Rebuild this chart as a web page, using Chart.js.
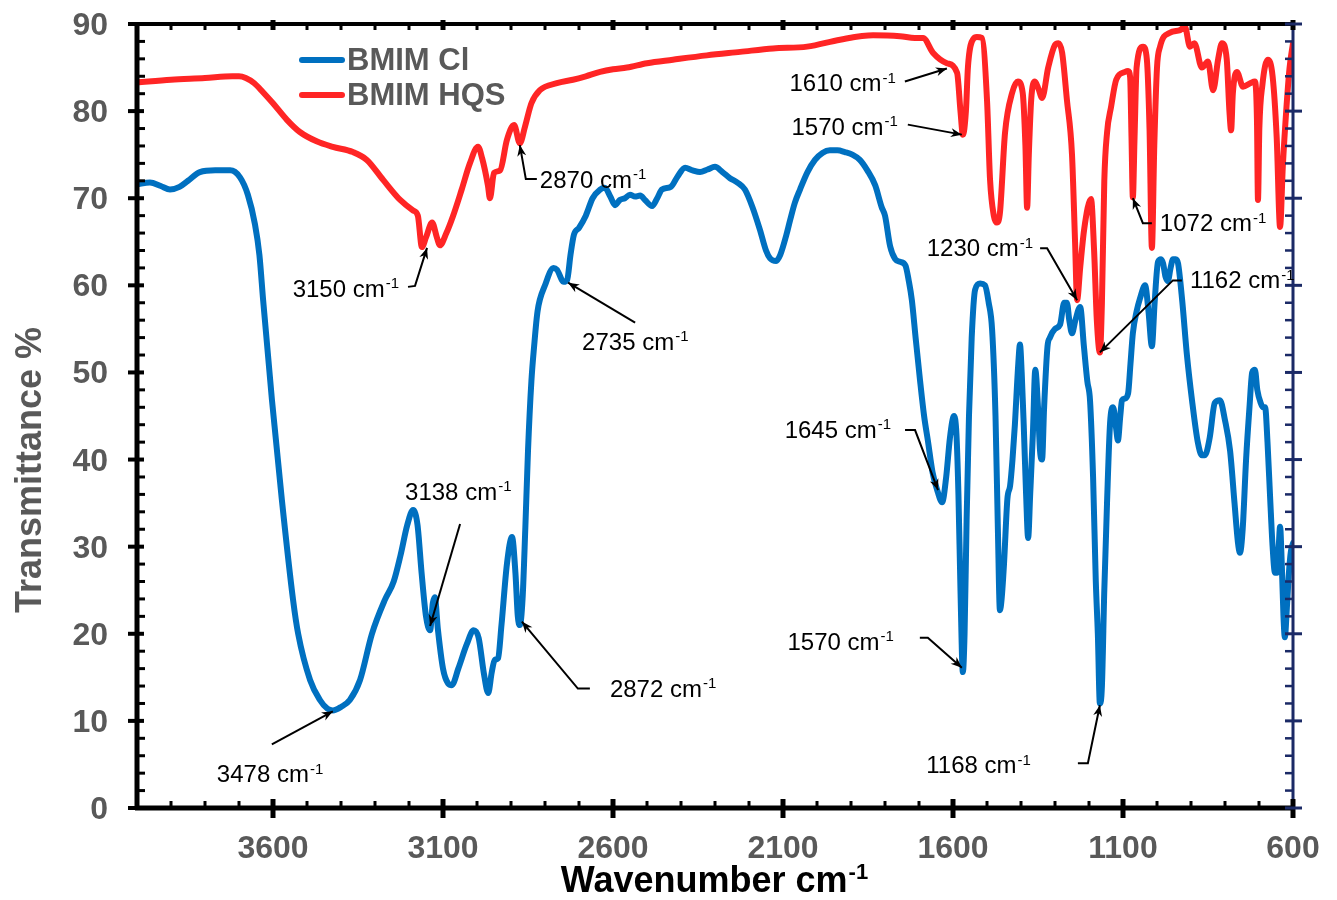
<!DOCTYPE html>
<html>
<head>
<meta charset="utf-8">
<title>FTIR BMIM Cl / BMIM HQS</title>
<script src="https://cdn.jsdelivr.net/npm/chart.js@4.4.0/dist/chart.umd.min.js"></script>
<style>
  html, body { margin: 0; padding: 0; background: #fff; }
</style>
</head>
<body>
<canvas id="irChart" width="1337" height="900"></canvas>
<script>
// BMIM Cl spectrum (wavenumber cm-1, transmittance %)
const clWave = [4000,3962,3930,3903,3875,3850,3815,3770,3726,3697,3674,3653,3640,3629,3603,3574,3541,3526,3491,3462,3440,3424,3400,3374,3344,3309,3271,3245,3225,3205,3188,3175,3163,3150,3138,3130,3124,3115,3100,3085,3074,3055,3030,3010,2995,2980,2967,2957,2948,2938,2928,2912,2897,2887,2880,2874,2866,2858,2850,2840,2832,2822,2800,2775,2765,2745,2735,2725,2715,2700,2680,2660,2638,2624,2608,2594,2580,2565,2550,2535,2520,2506,2485,2470,2456,2430,2410,2388,2366,2344,2322,2300,2278,2256,2234,2212,2190,2168,2150,2138,2120,2108,2090,2079,2065,2050,2028,2006,1984,1962,1940,1918,1896,1874,1852,1829,1810,1800,1785,1770,1756,1740,1730,1721,1710,1697,1685,1674,1660,1645,1632,1620,1609,1597,1590,1584,1578,1571,1566,1560,1553,1545,1535,1520,1506,1495,1485,1475,1468,1462,1457,1450,1440,1432,1425,1418,1408,1403,1398,1392,1385,1379,1373,1365,1358,1350,1344,1338,1332,1322,1315,1300,1285,1273,1265,1258,1250,1240,1226,1215,1205,1197,1188,1180,1174,1168,1162,1155,1147,1138,1129,1120,1115,1108,1103,1095,1085,1078,1071,1060,1050,1035,1025,1015,1007,997,988,982,975,968,960,953,945,938,926,912,897,880,868,859,845,830,815,800,785,772,762,756,748,738,728,720,712,705,695,688,682,675,667,660,653,647,642,638,633,628,624,618,612,606,600];
const clT = [71.6,71.8,71.4,71.0,71.3,72.0,73.0,73.2,73.2,72.4,70.4,67.0,63.5,58.3,46.8,35.4,23.9,20.0,14.7,12.4,11.4,11.2,11.6,12.4,14.7,20.0,23.9,26.0,29.0,32.5,34.2,32.5,27.0,22.0,20.4,23.5,24.2,20.5,16.0,14.3,14.1,16.0,18.8,20.4,19.5,15.5,13.2,15.5,17.0,17.2,21.0,28.0,31.1,27.0,22.0,21.0,24.0,32.0,41.0,49.0,53.0,57.0,60.0,62.0,61.8,60.4,60.6,63.5,65.8,66.6,68.0,70.0,71.0,71.2,70.2,69.2,69.8,70.0,70.4,70.2,70.3,69.8,69.1,70.0,71.0,71.3,72.5,73.5,73.2,73.0,73.3,73.6,73.0,72.3,71.8,71.0,69.0,66.4,64.0,63.1,62.8,63.5,65.8,67.5,69.5,71.0,73.0,74.4,75.2,75.5,75.5,75.3,75.0,74.4,73.2,71.5,69.0,68.0,64.5,63.0,62.7,62.3,60.5,58.3,54.0,49.1,45.0,42.2,38.5,36.3,35.1,38.0,42.5,45.0,43.0,36.0,25.0,15.6,20.0,33.0,45.0,54.0,59.5,60.2,60.0,58.0,54.9,45.0,32.0,22.7,24.0,28.0,35.5,37.0,40.0,44.0,51.0,53.2,50.0,44.0,36.0,31.0,36.0,43.0,50.3,46.0,41.0,40.0,46.0,53.0,54.0,55.0,55.5,58.0,58.0,56.0,54.5,56.0,57.5,53.0,49.0,46.8,38.0,26.0,20.0,12.0,14.0,25.0,35.0,44.2,46.0,43.5,42.2,45.0,46.8,47.0,47.6,51.0,54.5,57.0,58.5,60.0,57.0,53.0,58.0,62.7,63.0,62.5,61.0,60.5,62.0,63.0,63.0,62.5,58.3,52.0,46.8,42.0,40.5,40.5,42.5,46.5,46.8,44.5,41.0,35.0,30.5,29.3,32.0,40.0,46.0,50.0,50.3,48.0,46.5,46.0,46.0,42.0,35.4,30.0,27.0,27.0,30.0,32.3,28.0,22.0,19.6,23.0,27.0,29.5,30.4];

// BMIM HQS spectrum
const hqsWave = [4000,3900,3800,3720,3700,3680,3655,3630,3600,3559,3521,3470,3424,3365,3324,3276,3226,3188,3174,3162,3150,3132,3118,3109,3090,3071,3045,3021,2997,2985,2968,2962,2950,2932,2912,2891,2874,2859,2840,2815,2765,2718,2680,2638,2600,2559,2500,2424,2324,2226,2129,2029,1932,1835,1756,1712,1688,1659,1618,1588,1578,1571,1562,1556,1540,1530,1515,1500,1491,1480,1471,1462,1447,1426,1409,1395,1387,1382,1377,1370,1359,1348,1338,1320,1300,1290,1279,1265,1250,1241,1235,1226,1214,1194,1185,1177,1168,1162,1155,1147,1135,1120,1094,1085,1079,1075,1071,1066,1060,1041,1030,1022,1015,1008,1000,991,962,932,918,903,890,868,850,835,820,809,795,787,782,777,765,747,726,712,706,703,699,690,674,660,648,638,630,620,610,600];
const hqsT = [83.3,83.6,83.8,84.0,84.0,83.8,83.2,82.2,80.9,79.0,77.6,76.5,75.9,75.3,74.4,72.1,69.8,68.6,68.0,64.4,65.5,67.2,65.5,64.6,66.0,67.9,71.0,74.0,75.9,74.6,71.5,70.0,72.9,73.2,76.7,78.4,76.3,78.2,80.9,82.4,83.2,83.6,84.0,84.5,84.8,85.0,85.5,85.9,86.4,86.8,87.2,87.4,88.2,88.7,88.6,88.4,88.4,86.7,85.5,84.4,80.0,77.3,80.0,85.1,88.3,88.5,88.4,81.3,72.1,68.0,67.2,68.3,77.5,82.1,83.4,82.1,76.0,68.9,75.0,81.3,83.4,82.5,81.5,85.0,87.6,87.8,86.7,81.3,75.0,65.0,58.3,62.0,66.5,69.9,64.0,56.0,52.3,58.0,72.0,77.5,80.5,83.6,84.5,84.6,83.9,77.0,70.1,77.0,85.0,87.4,86.0,78.0,64.3,76.0,85.0,87.4,89.0,89.3,89.7,87.4,87.8,85.0,85.7,82.4,86.0,87.8,86.0,80.0,77.8,82.0,84.5,82.8,83.2,83.4,79.0,69.8,78.0,83.0,85.9,84.0,77.0,66.7,73.6,80.0,85.0,87.8];

const seriesNames = ['BMIM Cl', 'BMIM HQS'];
const seriesColors = ['#0070C0', '#FF2525'];

// axis ticks
const xTickLabels = [3600, 3100, 2600, 2100, 1600, 1100, 600];
const yTickLabels = [0, 10, 20, 30, 40, 50, 60, 70, 80, 90];

// peak annotations: target point on the spectrum
const noteText = ['3478', '3138', '2872', '2735', '2870', '3150', '1610', '1570', '1645', '1570', '1230', '1072', '1162', '1168'];
const noteWave = [3424, 3138, 2868, 2732, 2874, 3147, 1618, 1574, 1644, 1574, 1235, 1071, 1168, 1168];
const noteT = [11.1, 20.9, 21.4, 60.3, 76.1, 64.3, 84.9, 77.3, 36.5, 16.1, 58.3, 70.0, 52.3, 11.8];
// layout of each note, in pixels relative to the arrow tip: arrow path, label anchor, alignment
const noteLayout = [
  {path: [[-61, 33]], label: [-116, 63], align: 'left'},
  {path: [[30, -102]], label: [-25, -134], align: 'left'},
  {path: [[56, 67], [68, 67]], label: [88, 67], align: 'left'},
  {path: [[67, 40]], label: [14, 59], align: 'left'},
  {path: [[6, 34], [17, 34]], label: [20, 35], align: 'left'},
  {path: [[-12, 38], [-19, 39]], label: [-29, 41], align: 'right'},
  {path: [[-42, 13]], label: [-52, 15], align: 'right'},
  {path: [[-54, -10]], label: [-65, -8], align: 'right'},
  {path: [[-23, -60], [-33, -60]], label: [-48, -60], align: 'right'},
  {path: [[-34, -30], [-42, -30]], label: [-69, -26], align: 'right'},
  {path: [[-30, -52], [-37, -52]], label: [-45, -52], align: 'right'},
  {path: [[10, 25], [19, 25]], label: [27, 25], align: 'left'},
  {path: [[73, -72], [82, -72]], label: [90, -72], align: 'left'},
  {path: [[-12, 58], [-22, 58]], label: [-70, 60], align: 'right'}
];

const FONT = '"Liberation Sans", Arial, sans-serif';

function toPoints(wave, t) {
  return wave.map((w, i) => ({x: w, y: t[i]}));
}

function strokeLine(ctx, x1, y1, x2, y2) {
  ctx.beginPath();
  ctx.moveTo(x1, y1);
  ctx.lineTo(x2, y2);
  ctx.stroke();
}

// text with a "-1" superscript, like "cm-1"
function drawUnitText(ctx, main, x, y, size, weight, color, align) {
  const supSize = Math.round(size * 0.62);
  ctx.fillStyle = color;
  ctx.textBaseline = 'alphabetic';
  ctx.textAlign = 'left';
  ctx.font = `${weight} ${size}px ${FONT}`;
  const w1 = ctx.measureText(main).width;
  ctx.font = `${weight} ${supSize}px ${FONT}`;
  const w2 = ctx.measureText('-1').width;
  let left = x;
  if (align === 'right') left = x - w1 - w2;
  if (align === 'center') left = x - (w1 + w2) / 2;
  ctx.font = `${weight} ${size}px ${FONT}`;
  ctx.fillText(main, left, y);
  ctx.font = `${weight} ${supSize}px ${FONT}`;
  ctx.fillText('-1', left + w1 + 1, y - size * 0.36);
}

const spectrumFrame = {
  id: 'spectrumFrame',
  afterDatasetsDraw(chart) {
    const {ctx, chartArea: a, scales: {x, y}} = chart;
    ctx.save();
    ctx.lineCap = 'butt';

    // frame: black on three sides, navy on the right
    ctx.strokeStyle = '#000';
    ctx.lineWidth = 4;
    strokeLine(ctx, a.left, a.top, a.right, a.top);
    ctx.lineWidth = 5;
    strokeLine(ctx, a.left - 2, a.bottom, a.right + 2, a.bottom);
    strokeLine(ctx, a.left, a.top - 2, a.left, a.bottom + 2);
    ctx.strokeStyle = '#1B2A66';
    ctx.lineWidth = 3;
    strokeLine(ctx, a.right, a.top - 2, a.right, a.bottom);

    // x tick marks (bottom and top)
    x.ticks.forEach(t => {
      const px = x.getPixelForValue(t.value);
      const major = xTickLabels.includes(Math.round(t.value));
      ctx.strokeStyle = '#000';
      if (major) {
        ctx.lineWidth = 5;
        strokeLine(ctx, px, a.bottom - 9, px, a.bottom + 10);
        strokeLine(ctx, px, a.top - 4, px, a.top + 6);
      } else if (t.value > x.min && t.value < x.max) {
        ctx.lineWidth = 3;
        strokeLine(ctx, px, a.bottom, px, a.bottom - 7);
        strokeLine(ctx, px, a.top, px, a.top + 6);
      }
    });

    // y tick marks (left black, right navy)
    y.ticks.forEach(t => {
      const py = y.getPixelForValue(t.value);
      const major = yTickLabels.includes(Math.round(t.value));
      if (t.value <= y.min || t.value >= y.max) {
        if (!major) return;
      }
      ctx.strokeStyle = '#000';
      ctx.lineWidth = major ? 4 : 3;
      if (major) strokeLine(ctx, a.left - 9, py, a.left + 7, py);
      else strokeLine(ctx, a.left, py, a.left + 8, py);
      ctx.strokeStyle = '#1B2A66';
      ctx.lineWidth = major ? 3 : 2.5;
      if (major) strokeLine(ctx, a.right - 8, py, a.right + 9, py);
      else strokeLine(ctx, a.right - 8, py, a.right, py);
    });

    // tick labels
    ctx.fillStyle = '#595959';
    ctx.font = `bold 32px ${FONT}`;
    ctx.textBaseline = 'alphabetic';
    ctx.textAlign = 'center';
    xTickLabels.forEach(v => {
      ctx.fillText(String(v), x.getPixelForValue(v), a.bottom + 50);
    });
    ctx.textAlign = 'right';
    yTickLabels.forEach(v => {
      ctx.fillText(String(v), a.left - 29, y.getPixelForValue(v) + 11);
    });

    // axis titles
    drawUnitText(ctx, 'Wavenumber cm', 714, 892, 36, 'bold', '#000', 'center');
    ctx.save();
    ctx.translate(41, 470);
    ctx.rotate(-Math.PI / 2);
    ctx.fillStyle = '#595959';
    ctx.font = `bold 36px ${FONT}`;
    ctx.textAlign = 'center';
    ctx.textBaseline = 'alphabetic';
    ctx.fillText('Transmittance %', 0, 0);
    ctx.restore();

    // legend inside the plot
    chart.data.datasets.forEach((ds, i) => {
      const ly = 60 + 35 * i;
      ctx.strokeStyle = ds.borderColor;
      ctx.lineWidth = 6;
      ctx.lineCap = 'round';
      strokeLine(ctx, 302, ly, 342, ly);
      ctx.fillStyle = '#595959';
      ctx.font = `bold 31px ${FONT}`;
      ctx.textAlign = 'left';
      ctx.textBaseline = 'middle';
      ctx.fillText(ds.label, 347, ly + 1);
    });

    // peak notes with arrows
    ctx.lineCap = 'butt';
    noteText.forEach((txt, i) => {
      const tx = x.getPixelForValue(noteWave[i]);
      const ty = y.getPixelForValue(noteT[i]);
      const lay = noteLayout[i];
      const pts = lay.path.map(p => [tx + p[0], ty + p[1]]);
      ctx.strokeStyle = '#000';
      ctx.lineWidth = 2;
      ctx.beginPath();
      ctx.moveTo(pts[pts.length - 1][0], pts[pts.length - 1][1]);
      for (let k = pts.length - 2; k >= 0; k--) ctx.lineTo(pts[k][0], pts[k][1]);
      ctx.lineTo(tx, ty);
      ctx.stroke();
      // arrow head
      const ang = Math.atan2(ty - pts[0][1], tx - pts[0][0]);
      const len = 11, half = 4.5;
      ctx.fillStyle = '#000';
      ctx.beginPath();
      ctx.moveTo(tx, ty);
      ctx.lineTo(tx - len * Math.cos(ang) + half * Math.sin(ang), ty - len * Math.sin(ang) - half * Math.cos(ang));
      ctx.lineTo(tx - len * 0.7 * Math.cos(ang), ty - len * 0.7 * Math.sin(ang));
      ctx.lineTo(tx - len * Math.cos(ang) - half * Math.sin(ang), ty - len * Math.sin(ang) + half * Math.cos(ang));
      ctx.closePath();
      ctx.fill();
      drawUnitText(ctx, txt + ' cm', tx + lay.label[0], ty + lay.label[1] + 8, 24, 'normal', '#000', lay.align);
    });

    ctx.restore();
  }
};

new Chart(document.getElementById('irChart'), {
  type: 'line',
  data: {
    datasets: [
      {
        label: seriesNames[0],
        data: toPoints(clWave, clT),
        borderColor: seriesColors[0],
        borderWidth: 6,
        pointRadius: 0,
        cubicInterpolationMode: 'monotone',
        borderJoinStyle: 'round',
        borderCapStyle: 'round',
        order: 2
      },
      {
        label: seriesNames[1],
        data: toPoints(hqsWave, hqsT),
        borderColor: seriesColors[1],
        borderWidth: 6,
        pointRadius: 0,
        cubicInterpolationMode: 'monotone',
        borderJoinStyle: 'round',
        borderCapStyle: 'round',
        order: 1
      }
    ]
  },
  options: {
    responsive: false,
    animation: false,
    devicePixelRatio: 1,
    layout: {padding: {top: 24, right: 44, left: 0, bottom: 0}},
    plugins: {
      legend: {display: false},
      tooltip: {enabled: false}
    },
    scales: {
      x: {
        type: 'linear',
        reverse: true,
        min: 600,
        max: 4000,
        ticks: {display: false, stepSize: 100},
        grid: {display: false, drawTicks: false},
        border: {display: false},
        afterFit: s => { s.height = 92; }
      },
      y: {
        min: 0,
        max: 90,
        ticks: {display: false, stepSize: 2},
        grid: {display: false, drawTicks: false},
        border: {display: false},
        afterFit: s => { s.width = 137; }
      }
    }
  },
  plugins: [spectrumFrame]
});
</script>
</body>
</html>
